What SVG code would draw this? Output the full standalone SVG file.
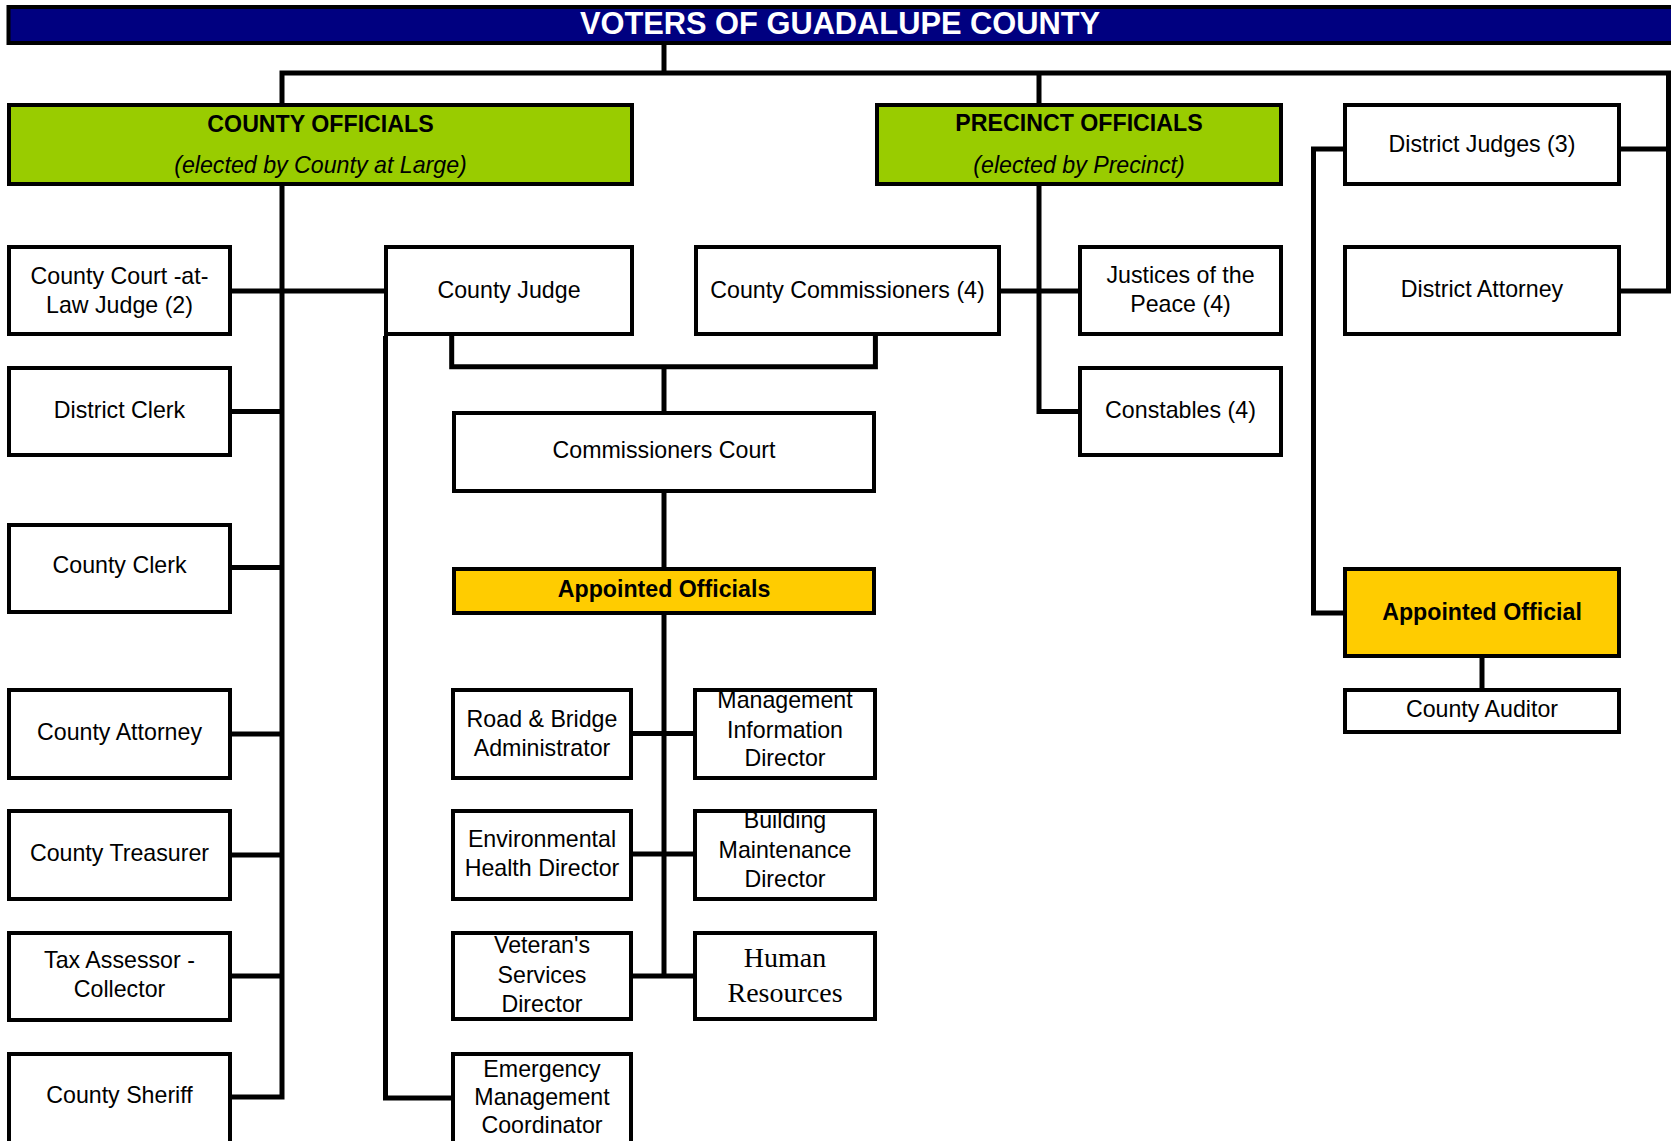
<svg xmlns="http://www.w3.org/2000/svg" width="1671" height="1141" viewBox="0 0 1671 1141">
<style>
.box{fill:#ffffff;stroke:#000000;stroke-width:4}
.green{fill:#99CC00;stroke:#000000;stroke-width:4}
.yellow{fill:#FFCC00;stroke:#000000;stroke-width:4}
.title{fill:#000080;stroke:#000000;stroke-width:4}
.t{font-family:"Liberation Sans",Arial,sans-serif;font-size:23.2px;fill:#000000;text-anchor:middle}
.b{font-weight:bold}
.i{font-style:italic}
.tt{font-family:"Liberation Sans",Arial,sans-serif;font-size:30.8px;font-weight:bold;fill:#ffffff;text-anchor:middle}
.serif{font-family:"Liberation Serif","Times New Roman",serif;font-size:28px;fill:#000000;text-anchor:middle}
.conn{fill:none;stroke:#000000;stroke-width:5;stroke-linejoin:miter;stroke-linecap:butt}
</style>
<rect width="1671" height="1141" fill="#ffffff"/>
<g id="connectors" class="conn">
<path d="M664,45 V73"/>
<path d="M282,103 V73 H1668.5 V291 H1621"/>
<path d="M1039,73 V103"/>
<path d="M1621,149 H1668.5"/>
<path d="M282,186 V1097 H232"/>
<path d="M232,291 H384"/>
<path d="M232,411.5 H282"/>
<path d="M232,567.5 H282"/>
<path d="M232,734 H282"/>
<path d="M232,855 H282"/>
<path d="M232,976 H282"/>
<path d="M385.5,336 V1098 H451"/>
<path d="M451.7,336 V366.7 H875.4 V336"/>
<path d="M664,366.7 V411"/>
<path d="M664,493 V567"/>
<path d="M664,615 V976"/>
<path d="M633,733.5 H693"/>
<path d="M633,854 H693"/>
<path d="M633,976 H693"/>
<path d="M1039,186 V411.5 H1078"/>
<path d="M1001,291 H1078"/>
<path d="M1343,149 H1313.5 V613 H1343"/>
<path d="M1482,658 V688"/>
</g>
<g id="title"><rect class="title" x="8.5" y="7" width="1680" height="36"/><text class="tt" x="840" y="33.5">VOTERS OF GUADALUPE COUNTY</text></g>
<g id="county-officials"><rect class="green" x="9" y="105" width="623" height="79"/><text class="t b" x="320.5" y="131.5">COUNTY OFFICIALS</text><text class="t i" x="320.5" y="173">(elected by County at Large)</text></g>
<g id="precinct-officials"><rect class="green" x="877" y="105" width="404" height="79"/><text class="t b" x="1079" y="131">PRECINCT OFFICIALS</text><text class="t i" x="1079" y="173">(elected by Precinct)</text></g>
<g id="district-judges"><rect class="box" x="1345" y="105" width="274" height="79"/><text class="t" x="1482" y="151.5">District Judges (3)</text></g>
<g id="county-court-at-law"><rect class="box" x="9" y="247" width="221" height="87"/><text class="t" x="119.5" y="284">County Court -at-</text><text class="t" x="119.5" y="312.7">Law Judge (2)</text></g>
<g id="county-judge"><rect class="box" x="386" y="247" width="246" height="87"/><text class="t" x="509" y="298.3">County Judge</text></g>
<g id="county-commissioners"><rect class="box" x="696" y="247" width="303" height="87"/><text class="t" x="847.5" y="297.7">County Commissioners (4)</text></g>
<g id="justices"><rect class="box" x="1080" y="247" width="201" height="87"/><text class="t" x="1180.5" y="283.3">Justices of the</text><text class="t" x="1180.5" y="312.3">Peace (4)</text></g>
<g id="district-attorney"><rect class="box" x="1345" y="247" width="274" height="87"/><text class="t" x="1482" y="296.7">District Attorney</text></g>
<g id="district-clerk"><rect class="box" x="9" y="368" width="221" height="87"/><text class="t" x="119.5" y="418.3">District Clerk</text></g>
<g id="constables"><rect class="box" x="1080" y="368" width="201" height="87"/><text class="t" x="1180.5" y="418.3">Constables (4)</text></g>
<g id="commissioners-court"><rect class="box" x="454" y="413" width="420" height="78"/><text class="t" x="664" y="458.3">Commissioners Court</text></g>
<g id="appointed-officials"><rect class="yellow" x="454" y="569" width="420" height="44"/><text class="t b" x="664" y="596.7">Appointed Officials</text></g>
<g id="appointed-official"><rect class="yellow" x="1345" y="569" width="274" height="87"/><text class="t b" x="1482" y="620">Appointed Official</text></g>
<g id="county-clerk"><rect class="box" x="9" y="525" width="221" height="87"/><text class="t" x="119.5" y="573">County Clerk</text></g>
<g id="county-auditor"><rect class="box" x="1345" y="690" width="274" height="42"/><text class="t" x="1482" y="716.7">County Auditor</text></g>
<g id="county-attorney"><rect class="box" x="9" y="690" width="221" height="88"/><text class="t" x="119.5" y="740">County Attorney</text></g>
<g id="road-bridge"><rect class="box" x="453" y="690" width="178" height="88"/><text class="t" x="542" y="726.7">Road &amp; Bridge</text><text class="t" x="542" y="756">Administrator</text></g>
<g id="mis-director"><rect class="box" x="695" y="690" width="180" height="88"/><text class="t" x="785" y="708.3">Management</text><text class="t" x="785" y="737.5">Information</text><text class="t" x="785" y="766">Director</text></g>
<g id="county-treasurer"><rect class="box" x="9" y="811" width="221" height="88"/><text class="t" x="119.5" y="860.7">County Treasurer</text></g>
<g id="env-health"><rect class="box" x="453" y="811" width="178" height="88"/><text class="t" x="542" y="846.7">Environmental</text><text class="t" x="542" y="876">Health Director</text></g>
<g id="building-maintenance"><rect class="box" x="695" y="811" width="180" height="88"/><text class="t" x="785" y="828.3">Building</text><text class="t" x="785" y="858">Maintenance</text><text class="t" x="785" y="886.7">Director</text></g>
<g id="tax-assessor"><rect class="box" x="9" y="933" width="221" height="87"/><text class="t" x="119.5" y="968.3">Tax Assessor -</text><text class="t" x="119.5" y="996.7">Collector</text></g>
<g id="veterans"><rect class="box" x="453" y="933" width="178" height="86"/><text class="t" x="542" y="953.3">Veteran's</text><text class="t" x="542" y="983">Services</text><text class="t" x="542" y="1011.7">Director</text></g>
<g id="human-resources"><rect class="box" x="695" y="933" width="180" height="86"/><text class="serif" x="785" y="966.7">Human</text><text class="serif" x="785" y="1001.7">Resources</text></g>
<g id="county-sheriff"><rect class="box" x="9" y="1054" width="221" height="95"/><text class="t" x="119.5" y="1103.3">County Sheriff</text></g>
<g id="emergency"><rect class="box" x="453" y="1054" width="178" height="95"/><text class="t" x="542" y="1076.7">Emergency</text><text class="t" x="542" y="1105">Management</text><text class="t" x="542" y="1133.3">Coordinator</text></g>
</svg>
